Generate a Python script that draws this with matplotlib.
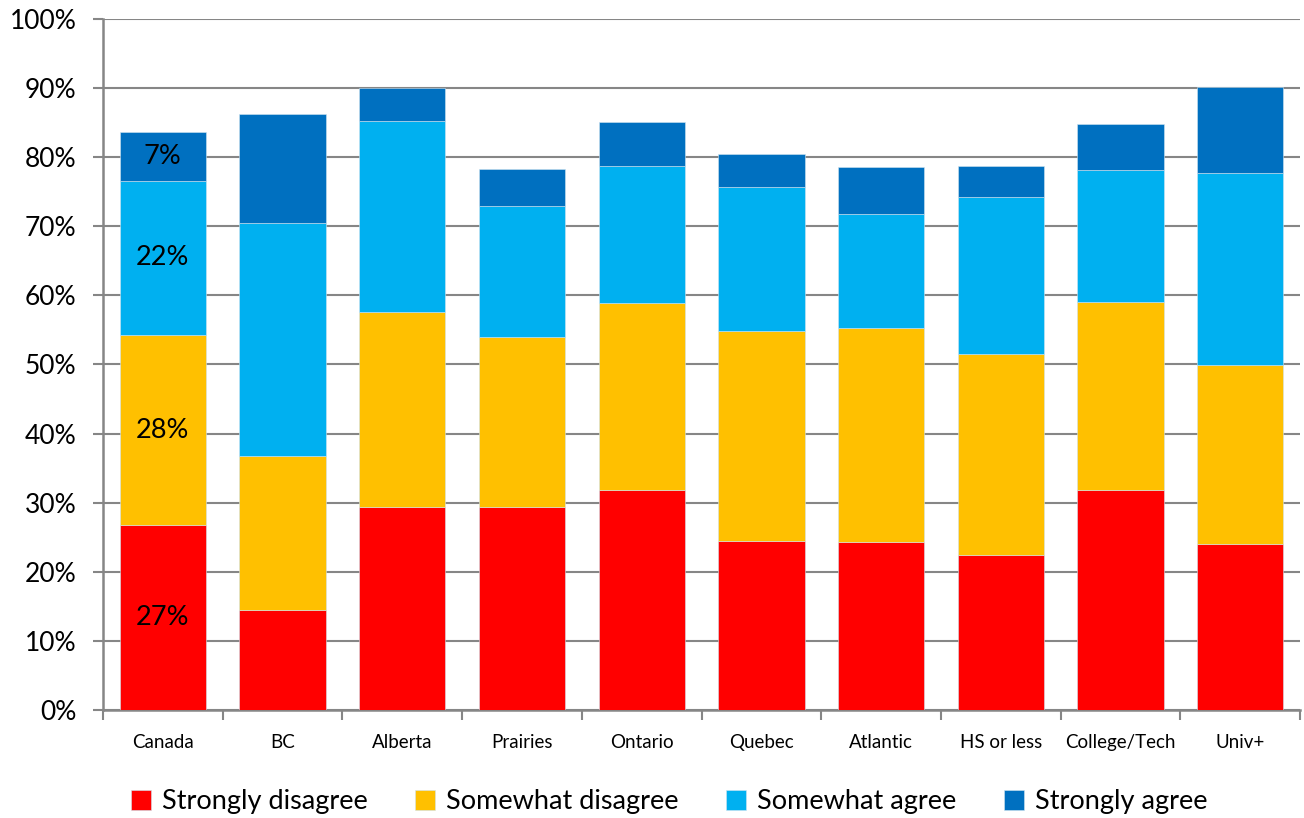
import numpy as np
import matplotlib.pyplot as plt
from matplotlib.ticker import PercentFormatter, FixedLocator

plt.rcParams['font.family'] = ['Lato', 'DejaVu Sans']

groups = ['Canada', 'BC', 'Alberta', 'Prairies', 'Ontario', 'Quebec',
          'Atlantic', 'HS or less', 'College/Tech', 'Univ+']

strongly_disagree = [26.7, 14.5, 29.4, 29.3, 31.8, 24.4, 24.3, 22.5, 31.8, 24.0]
somewhat_disagree = [27.6, 22.3, 28.2, 24.6, 27.1, 30.5, 31.0, 29.0, 27.2, 25.9]
somewhat_agree = [22.3, 33.7, 27.6, 19.0, 19.8, 20.7, 16.4, 22.7, 19.1, 27.8]
strongly_agree = [7.0, 15.8, 4.8, 5.4, 6.3, 4.9, 6.9, 4.5, 6.7, 12.4]

series = [
    ('Strongly disagree', strongly_disagree, '#FF0000'),
    ('Somewhat disagree', somewhat_disagree, '#FFC000'),
    ('Somewhat agree', somewhat_agree, '#00B0F0'),
    ('Strongly agree', strongly_agree, '#0070C0'),
]

fig = plt.figure(figsize=(13.04, 8.18), dpi=100)
ax = fig.add_axes([0.079, 0.132, 0.918, 0.845])

x = np.arange(len(groups))
bottom = np.zeros(len(groups))
for name, vals, color in series:
    vals = np.array(vals)
    ax.bar(x, vals, width=0.72, bottom=bottom, color=color, label=name,
           edgecolor='#d0e4f0', linewidth=0.4, zorder=3)
    # labels only on the national bar
    ax.text(x[0], bottom[0] + vals[0] / 2, f'{vals[0]:.0f}%', ha='center',
            va='center', fontsize=19.5, color='black', zorder=4)
    bottom += vals

ax.set_xlim(-0.5, len(groups) - 0.5)
ax.set_ylim(0, 100)
ax.yaxis.set_major_locator(FixedLocator(np.arange(0, 101, 10)))
ax.yaxis.set_major_formatter(PercentFormatter(decimals=0))
ax.yaxis.grid(True, color='#868686', linewidth=1.5, zorder=0)
ax.set_axisbelow(True)

# category labels sit between the boundary ticks
ax.set_xticks(np.arange(len(groups) + 1) - 0.5)
ax.set_xticklabels([])
ax.set_xticks(x, minor=True)
ax.set_xticklabels(groups, minor=True, fontsize=13.5)
ax.tick_params(axis='x', which='minor', length=0, pad=17)
ax.tick_params(axis='x', which='major', length=7, width=1.5, color='#868686')
ax.tick_params(axis='y', length=7, width=1.5, color='#868686', labelsize=19, pad=12)

for side in ['top', 'right']:
    ax.spines[side].set_visible(False)
for side in ['left', 'bottom']:
    ax.spines[side].set_color('#868686')
    ax.spines[side].set_linewidth(1.8)

fig.legend(loc='center', bbox_to_anchor=(0.513, 0.02), ncol=4, frameon=False,
           fontsize=19.5, handlelength=0.75, handleheight=0.75, handletextpad=0.4,
           columnspacing=1.75)

fig.savefig('out.png', dpi=100)
